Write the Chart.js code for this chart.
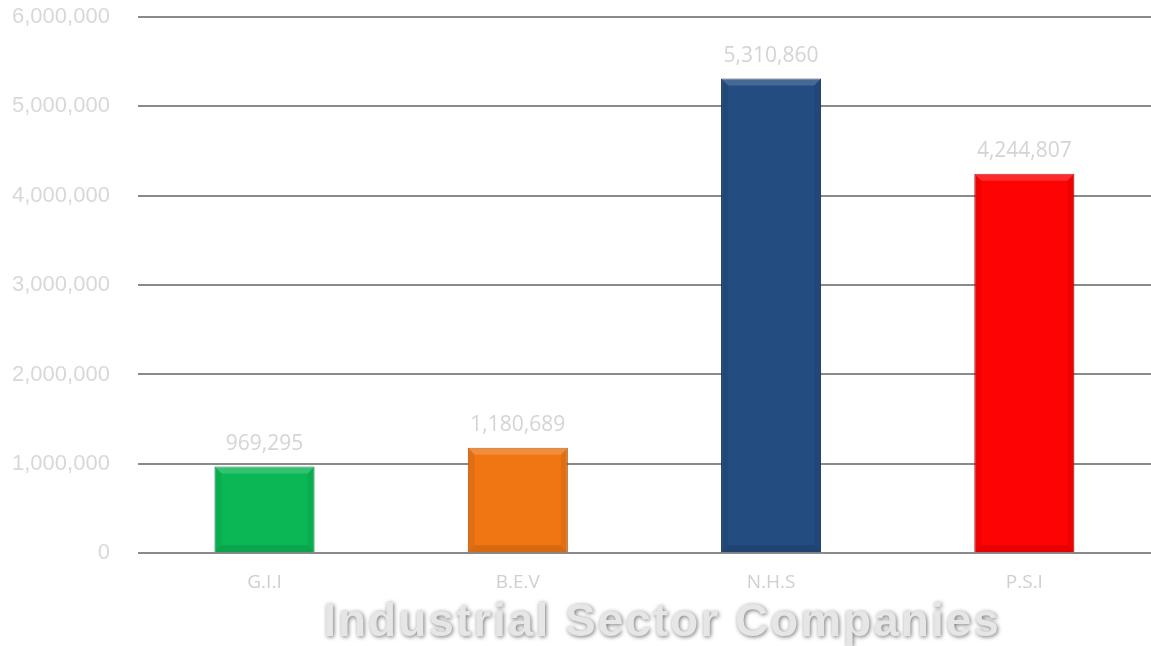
<!DOCTYPE html>
<html>
<head>
<meta charset="utf-8">
<script src="https://cdn.jsdelivr.net/npm/chart.js@4.4.1/dist/chart.umd.min.js"></script>
<style>
    html, body { margin: 0; padding: 0; background: #fff; overflow: hidden; }
    #wrap { position: relative; width: 1151px; height: 646px; }
</style>
</head>
<body>
<div id="wrap"><canvas id="chart-container"></canvas></div>
<script>
const companies = ["G.I.I", "B.E.V", "N.H.S", "P.S.I"];
const totals = [969295, 1180689, 5310860, 4244807];
const barColors = ["#0bb755", "#f07613", "#234c80", "#fe0303"];
const edgeColors = ["#08843c", "#a9520c", "#17355a", "#b00000"];
const axisTitle = "Industrial Sector Companies";

const fmt = (v) => Number(v).toLocaleString("en-US");

// value labels above each bar
const valueLabels = {
    id: "valueLabels",
    afterDatasetsDraw: (chart) => {
        const ctx = chart.ctx;
        const meta = chart.getDatasetMeta(0);
        ctx.save();
        ctx.font = "21px 'Open Sans', sans-serif";
        ctx.fillStyle = "#d4d4d4";
        ctx.textAlign = "center";
        ctx.textBaseline = "bottom";
        meta.data.forEach((bar, i) => {
            ctx.fillText(fmt(totals[i]), bar.x, bar.y - 12);
        });
        ctx.restore();
    },
};

// bevelled look on the bars
const bevel = {
    id: "bevel",
    afterDatasetsDraw: (chart) => {
        const ctx = chart.ctx;
        const meta = chart.getDatasetMeta(0);
        ctx.save();
        meta.data.forEach((bar) => {
            const l = bar.x - bar.width / 2, r = bar.x + bar.width / 2;
            const t = bar.y, b = bar.base, e = 7;
            ctx.fillStyle = "rgba(255,255,255,0.16)";
            ctx.beginPath();
            ctx.moveTo(l, t); ctx.lineTo(r, t); ctx.lineTo(r - e, t + e); ctx.lineTo(l + e, t + e);
            ctx.fill();
            ctx.fillStyle = "rgba(0,0,0,0.10)";
            ctx.beginPath();
            ctx.moveTo(l, b); ctx.lineTo(r, b); ctx.lineTo(r - e, b - e); ctx.lineTo(l + e, b - e);
            ctx.fill();
            ctx.fillStyle = "rgba(0,0,0,0.06)";
            ctx.beginPath();
            ctx.moveTo(r, t); ctx.lineTo(r, b); ctx.lineTo(r - e, b - e); ctx.lineTo(r - e, t + e);
            ctx.fill();
            ctx.beginPath();
            ctx.moveTo(l, t); ctx.lineTo(l, b); ctx.lineTo(l + e, b - e); ctx.lineTo(l + e, t + e);
            ctx.fill();
        });
        ctx.restore();
    },
};

// big embossed axis title under the category labels
const bigTitle = {
    id: "bigTitle",
    afterDraw: (chart) => {
        const ctx = chart.ctx;
        ctx.save();
        ctx.font = "bold 46px 'Liberation Sans', Arial, sans-serif";
        ctx.letterSpacing = "2px";
        ctx.textAlign = "center";
        ctx.textBaseline = "alphabetic";
        ctx.shadowColor = "rgba(0,0,0,0.55)";
        ctx.shadowBlur = 4;
        ctx.shadowOffsetX = 1;
        ctx.shadowOffsetY = 1;
        ctx.fillStyle = "#e6e6e6";
        ctx.fillText(axisTitle, 662, 636);
        ctx.restore();
    },
};

new Chart(document.getElementById("chart-container"), {
    type: "bar",
    data: {
        labels: companies,
        datasets: [
            {
                data: totals,
                backgroundColor: barColors,
                borderColor: edgeColors,
                borderWidth: 1,
                barPercentage: 0.395,
                categoryPercentage: 1,
            },
        ],
    },
    options: {
        responsive: true,
        maintainAspectRatio: false,
        animation: false,
        layout: { padding: { left: 12, right: 0, top: 17, bottom: 34 } },
        plugins: {
            legend: { display: false },
            tooltip: { enabled: false },
        },
        scales: {
            x: {
                grid: { display: false, drawTicks: false },
                border: { display: false },
                ticks: {
                    color: "#cfcfcf",
                    font: { family: "'Open Sans', sans-serif", size: 19 },
                    padding: 18,
                },
            },
            y: {
                min: 0,
                max: 6000000,
                grid: {
                    color: "#8a8a8a",
                    lineWidth: 2,
                    drawTicks: true,
                    tickLength: 28,
                    tickColor: "rgba(0,0,0,0)",
                },
                border: { display: false },
                ticks: {
                    stepSize: 1000000,
                    color: "#d8d8d8",
                    font: { family: "'Liberation Sans', Arial, sans-serif", size: 22 },
                    padding: 0,
                    callback: (v) => fmt(v),
                },
            },
        },
    },
    plugins: [valueLabels, bevel, bigTitle],
});
</script>
</body>
</html>
